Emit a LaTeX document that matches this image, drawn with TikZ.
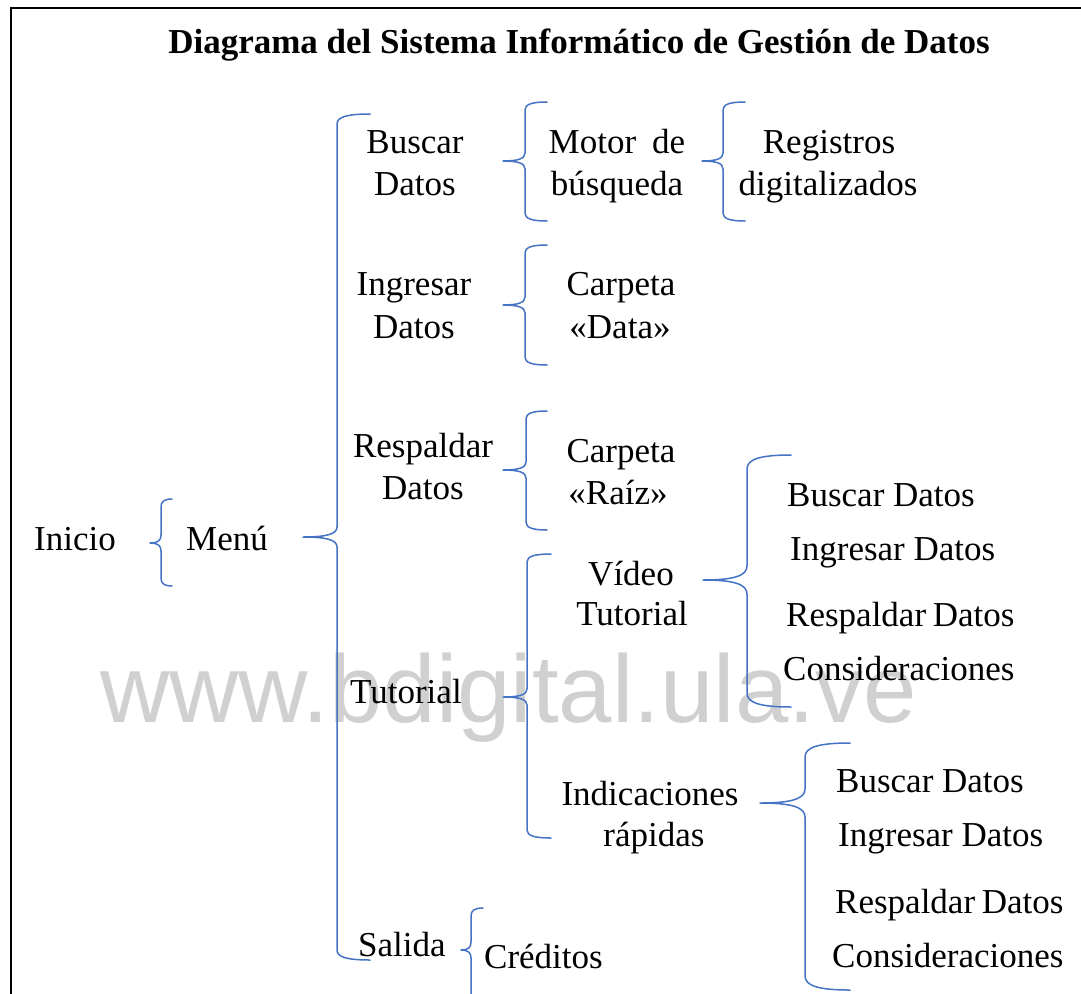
\documentclass[tikz,border=0pt]{standalone}
\usepackage{fontspec}
\setmainfont{Liberation Serif}
\newfontfamily\wmfont{Liberation Sans}
\definecolor{braceblue}{RGB}{68,114,196}
\definecolor{wmgray}{RGB}{208,208,208}
% #1 x of vertical line, #2 y top, #3 y bottom, #4 y tip, #5 x of hook ends, #6 x of tip, #7 curve radius
\newcommand{\wbrace}[7]{%
  \draw[bracestyle] (#5,#2) .. controls ({#1+0.3*(#5-#1)},#2) and (#1,{#2+0.3*#7}) .. (#1,{#2+#7})
    -- (#1,{#4-#7}) .. controls (#1,{#4-0.3*#7}) and ({#1-0.3*(#1-#6)},#4) .. (#6,#4)
    .. controls ({#1-0.3*(#1-#6)},#4) and (#1,{#4+0.3*#7}) .. (#1,{#4+#7})
    -- (#1,{#3-#7}) .. controls (#1,{#3-0.3*#7}) and ({#1+0.3*(#5-#1)},#3) .. (#5,#3);}
\begin{document}
\begin{tikzpicture}[x=1pt,y=-1pt,
  lbl/.style={inner sep=0pt, anchor=base, font=\fontsize{35}{42}\selectfont},
  lblw/.style={lbl, anchor=base west},
  titlestyle/.style={inner sep=0pt, anchor=base, font=\fontsize{35}{42}\selectfont\bfseries},
  bracestyle/.style={draw=braceblue, line width=1.5pt, line join=round, line cap=round},
  framestyle/.style={draw=black, line width=2pt},
  wm/.style={inner sep=0pt, anchor=base west, text=wmgray, font=\fontsize{96}{96}\wmfont}]
\useasboundingbox (0,0) rectangle (1081,993);
\clip (0,0) rectangle (1081,993);
\fill[white] (0,0) rectangle (1081,993);

% watermark (behind)
\node[wm] (wmark) at (100,722) {www.bdigital.ula.ve};

% frame
\draw[framestyle] (10.5,1000) -- (10.5,7.5) -- (1090,7.5);

% title
\node[titlestyle] (title) at (579,53) {Diagrama del Sistema Informático de Gestión de Datos};

% level 0/1
\node[lblw] (inicio) at (34,550) {Inicio};
\node[lbl] (menu) at (227,550) {Menú};

% level 2
\node[lbl] (buscar1) at (415,153) {Buscar};
\node[lbl] (buscar2) at (415,195) {Datos};
\node[lbl] (ingresar1) at (414,295) {Ingresar};
\node[lbl] (ingresar2) at (414,338) {Datos};
\node[lbl] (respaldar1) at (423,457) {Respaldar};
\node[lbl] (respaldar2) at (423,499) {Datos};
\node[lblw] (tutorial) at (350,703) {Tutorial};
\node[lblw] (salida) at (358,956) {Salida};

% level 3
\node[lbl] (motor1) at (617,153) {Motor\hspace{16pt}de};
\node[lbl] (motor2) at (617,195) {búsqueda};
\node[lbl] (cdata1) at (621,295) {Carpeta};
\node[lbl] (cdata2) at (620,338) {«Data»};
\node[lbl] (craiz1) at (621,462) {Carpeta};
\node[lbl] (craiz2) at (618,504) {«Raíz»};
\node[lbl] (video1) at (631,585) {Vídeo};
\node[lbl] (video2) at (632,625) {Tutorial};
\node[lbl] (indic1) at (650,805) {Indicaciones};
\node[lbl] (indic2) at (654,846) {rápidas};
\node[lblw] (creditos) at (484,968) {Créditos};

% level 4
\node[lbl] (reg1) at (829,153) {Registros};
\node[lbl] (reg2) at (828,195) {digitalizados};
\node[lblw] (va) at (787,506) {Buscar Datos};
\node[lblw] (vb) at (790,560) {Ingresar Datos};
\node[lblw] (vc) at (786,626) {Respaldar\hspace{-2pt} Datos};
\node[lblw] (vd) at (783,680) {Consideraciones};
\node[lblw] (ia) at (836,792) {Buscar Datos};
\node[lblw] (ib) at (838,846) {Ingresar Datos};
\node[lblw] (ic) at (835,913) {Respaldar\hspace{-2pt} Datos};
\node[lblw] (id) at (832,967) {Consideraciones};

% braces
\wbrace{161}{499}{586}{543}{172}{150}{8}
\wbrace{337}{114}{960}{537}{370}{303}{10}
\wbrace{525}{102}{221}{161}{547}{503}{8}
\wbrace{723}{102}{221}{161}{745}{702}{8}
\wbrace{525}{245}{365}{305}{547}{503}{8}
\wbrace{526}{411}{530}{470}{547}{503}{8}
\wbrace{527}{554}{838}{697}{551}{503}{8}
\wbrace{747}{455}{707}{580}{791}{703}{14}
\wbrace{805}{743}{990}{803}{850}{760}{14}
\wbrace{471}{908}{1010}{950}{483}{461}{8}
\end{tikzpicture}
\end{document}
